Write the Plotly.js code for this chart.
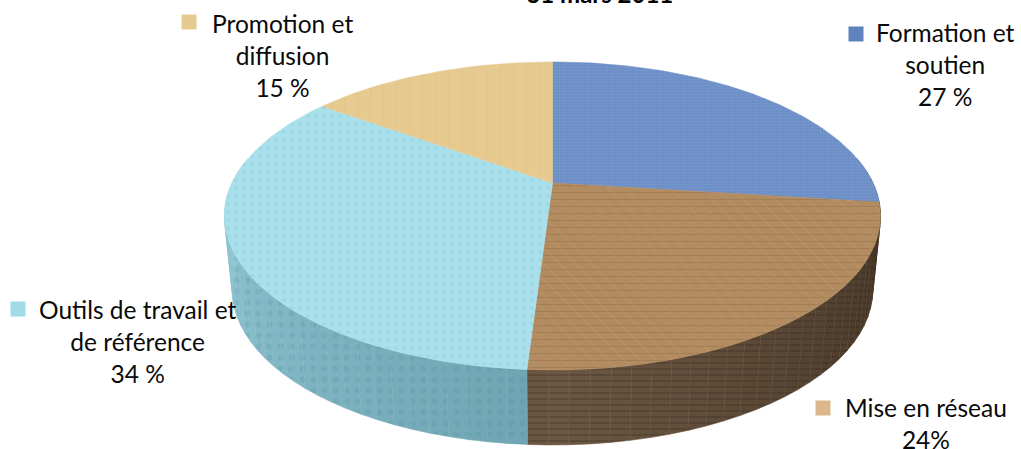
<!DOCTYPE html>
<html>
<head>
<meta charset="utf-8">
<script src="https://cdn.plot.ly/plotly-3.0.1.min.js"></script>
<style>html,body{margin:0;padding:0;background:#fff;overflow:hidden}</style>
</head>
<body>
<div id="chart" style="width:1021px;height:449px"></div>
<script>
// Data
const categories = ["Formation et soutien", "Mise en réseau", "Outils de travail et de référence", "Promotion et diffusion"];
const values = [27, 24, 34, 15];
const labelTexts = ["Formation et<br>soutien<br>27 %", "Mise en réseau<br>24%", "Outils de travail et<br>de référence<br>34 %", "Promotion et<br>diffusion<br>15 %"];
const titleText = "31 mars 2011";

// Styles
const topColors = ["#6c8ec6", "#b28c60", "#a9e0ec", "#e6ca90"];
const wallNear = ["#5a7098", "#6b5742", "#6ea4b2", "#b39c70"];
const wallFar = ["#4a5c80", "#3d2f20", "#93c8d5", "#a08a60"];
const topPatterns = [
  [{shape:"+", fgcolor:"#8fabdb", fgopacity:0.4, size:3, solidity:0.3}],
  [{shape:"-", fgcolor:"#7a5a38", fgopacity:0.3, size:7, solidity:0.16},
   {shape:"\\", fgcolor:"#d8b488", fgopacity:0.18, size:11, solidity:0.1}],
  [{shape:".", fgcolor:"#86c5d6", fgopacity:0.3, size:8, solidity:0.2}],
  [{shape:"|", fgcolor:"#d8b97c", fgopacity:0.2, size:13, solidity:0.15}]
];
const wallPatterns = [
  {shape:"+", fgcolor:"#34456a", fgopacity:0.3, size:4, solidity:0.25},
  {shape:"-", fgcolor:"#2a1e12", fgopacity:0.3, size:6, solidity:0.25},
  {shape:".", fgcolor:"#4f8b9b", fgopacity:0.22, size:11, solidity:0.25},
  {shape:"|", fgcolor:"#8a7448", fgopacity:0.3, size:17, solidity:0.2}
];

// Projection of the tilted disc into the axes
const W = 1021, H = 449;
const disc = {cx:552.5, cy:183, R:320.5, h:147, k:0.214};
const base = {cx:552.5, scaleX:0.976, topCy:216, cy:290, scaleY:1.006};
function topPoint(t){
  const d = 1 + disc.k*Math.cos(t);
  return [disc.cx + disc.R*Math.sin(t)/d, disc.cy - disc.h*Math.cos(t)/d];
}
function basePoint(t){
  const p = topPoint(t);
  return [base.cx + (p[0]-base.cx)*base.scaleX, base.cy + (p[1]-base.topCy)*base.scaleY];
}
function mix(a,b,f){
  const pa=[1,3,5].map(i=>parseInt(a.substr(i,2),16)), pb=[1,3,5].map(i=>parseInt(b.substr(i,2),16));
  return "rgb("+pa.map((v,i)=>Math.round(v+(pb[i]-v)*f)).join(",")+")";
}
const total = values.reduce((a,b)=>a+b,0);
let cum = 0;
const spans = values.map(v=>{const s=[cum/total*2*Math.PI,(cum+v)/total*2*Math.PI];cum+=v;return s;});

const traces = [];
const wallFrom = 80*Math.PI/180, wallTo = 280*Math.PI/180;
// side walls first, so the top faces cover them
spans.forEach((s,i)=>{
  const a=Math.max(s[0],wallFrom), b=Math.min(s[1],wallTo);
  if(b<=a) return;
  const n=Math.max(2,Math.ceil((b-a)/(3*Math.PI/180)));
  for(let j=0;j<n;j++){
    const t0=a+(b-a)*j/n, t1=a+(b-a)*(j+1)/n, tm=(t0+t1)/2;
    const f=Math.min(1,Math.abs(tm-Math.PI)/(Math.PI*0.5));
    const col=mix(wallNear[i],wallFar[i],f);
    const p=[topPoint(t0),topPoint(t1),basePoint(t1),basePoint(t0),topPoint(t0)];
    traces.push({type:"scatter",mode:"lines",x:p.map(q=>q[0]),y:p.map(q=>q[1]),fill:"toself",
      fillcolor:col,line:{color:col,width:0.6},hoverinfo:"skip",showlegend:false,
      fillpattern:Object.assign({bgcolor:col},wallPatterns[i])});
  }
});
// top faces
spans.forEach((s,i)=>{
  const xs=[disc.cx], ys=[disc.cy];
  const n=Math.ceil((s[1]-s[0])/(Math.PI/180));
  for(let j=0;j<=n;j++){const p=topPoint(s[0]+(s[1]-s[0])*j/n);xs.push(p[0]);ys.push(p[1]);}
  xs.push(disc.cx);ys.push(disc.cy);
  topPatterns[i].forEach((pat,pi)=>{
    const bg = pi===0 ? topColors[i] : "rgba(0,0,0,0)";
    traces.push({type:"scatter",mode:"lines",x:xs,y:ys,fill:"toself",name:categories[i],
      fillcolor:bg,line:{color:pi===0?topColors[i]:"rgba(0,0,0,0)",width:0.5},
      hoverinfo:"skip",showlegend:false,fillpattern:Object.assign({bgcolor:bg},pat)});
  });
});

// label placement in axis units
const labelPos = [[945,17],[926,392],[138,294],[282,8]];
const keyPos = [[856,34],[823,408],[18,309],[189,22]];
const keyColors = ["#5f83bf","#d9b68c","#a2dbe8","#e6ca90"];
const font = {family:"Lato, 'Open Sans', sans-serif", size:24.5, color:"#0a0a0a"};

const layout = {
  width:W, height:H,
  margin:{l:0,r:0,t:0,b:0,pad:0},
  paper_bgcolor:"#fff", plot_bgcolor:"#fff",
  showlegend:false,
  title:{text:"<b>"+titleText+"</b>", x:0.5875, xanchor:"center", y:1, yanchor:"bottom",
         yref:"container", pad:{b:-3}, font:{family:"Lato, sans-serif", size:24, color:"#000"}, automargin:false},
  xaxis:{range:[0,W],visible:false,fixedrange:true},
  yaxis:{range:[H,0],visible:false,fixedrange:true},
  annotations:labelTexts.map((t,i)=>({x:labelPos[i][0],y:labelPos[i][1],xref:"x",yref:"y",
    text:t,showarrow:false,align:"center",xanchor:"center",yanchor:"top",font:font,borderpad:0})),
  shapes:keyPos.map((p,i)=>({type:"rect",xref:"x",yref:"y",x0:p[0]-7.5,x1:p[0]+7.5,y0:p[1]-7.5,y1:p[1]+7.5,
    fillcolor:keyColors[i],line:{width:0},layer:"above"}))
};
Plotly.newPlot("chart",traces,layout,{displayModeBar:false,staticPlot:true});
</script>
</body>
</html>
